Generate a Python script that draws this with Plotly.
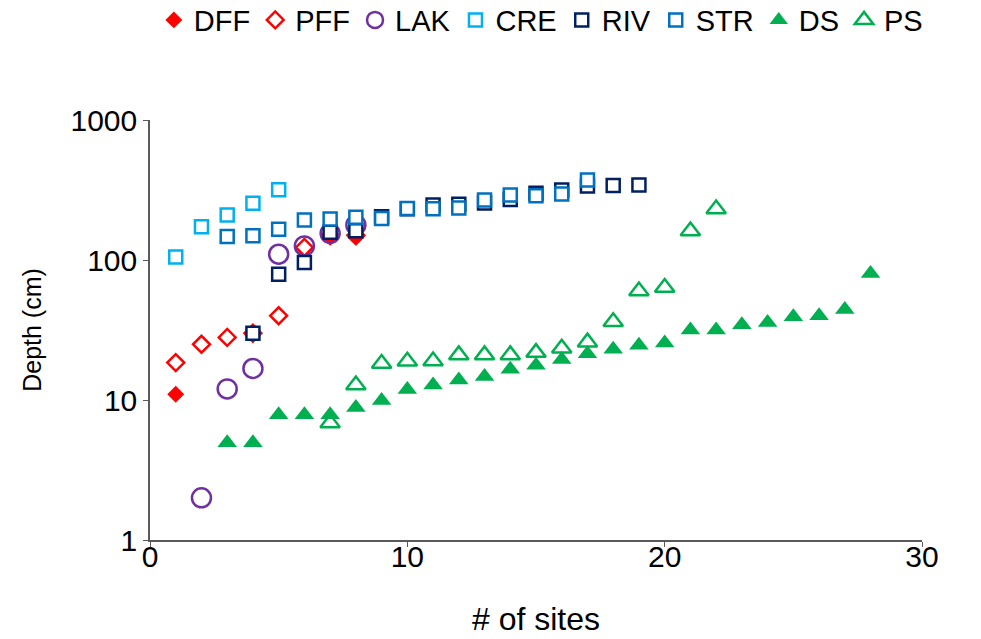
import plotly.graph_objects as go

# Depth of each site class, ranked by site number
dff_x = [1, 4, 7, 8]
dff_y = [11, 30, 145, 145]

pff_x = [1, 2, 3, 4, 5, 6, 7, 8]
pff_y = [18.5, 25, 28, 30, 40, 123, 150, 150]

lak_x = [2, 3, 4, 5, 6, 7, 8]
lak_y = [2.0, 12, 16.8, 110, 126, 155, 178]

cre_x = [1, 2, 3, 4, 5]
cre_y = [105, 173, 210, 254, 318]

riv_x = [4, 5, 6, 7, 8, 9, 10, 11, 12, 13, 14, 15, 16, 17, 18, 19]
riv_y = [30, 79, 96, 158, 162, 204, 232, 247, 250, 255, 271, 300, 316, 338, 340, 343]

str_x = [3, 4, 5, 6, 7, 8, 9, 10, 11, 12, 13, 14, 15, 16, 17]
str_y = [147, 149, 166, 193, 196, 202, 198, 233, 232, 235, 268, 291, 288, 296, 373]

ds_x = list(range(3, 29))
ds_y = [4.95, 4.95, 7.85, 7.85, 7.85, 8.85, 9.9, 11.9, 12.8, 13.9, 14.7, 16.6, 17.7,
        19.5, 21.4, 23, 24.6, 25.5, 31.6, 31.6, 34.5, 35.8, 39.3, 40, 44.3, 80]

ps_x = list(range(7, 23))
ps_y = [6.85, 12.8, 18.2, 18.9, 19, 21, 21, 21, 21.8, 23.4, 25.9, 36.2, 60, 63.6, 161, 231]

RED = "#FF0000"
PURPLE = "#7030A0"
LIGHT_BLUE = "#00B0F0"
NAVY = "#002060"
BLUE = "#0070C0"
GREEN = "#00B050"


def square(color):
    # white-filled square with a coloured border
    return dict(symbol="square", size=13, color="white", line=dict(width=2.5, color=color))


series = [
    ("DFF", dff_x, dff_y, dict(symbol="diamond", size=13, color=RED, line=dict(width=0, color=RED))),
    ("PFF", pff_x, pff_y, dict(symbol="diamond-open", size=13, color=RED, line=dict(width=2.5))),
    ("LAK", lak_x, lak_y, dict(symbol="circle-open", size=19, color=PURPLE, line=dict(width=2.5))),
    ("CRE", cre_x, cre_y, square(LIGHT_BLUE)),
    ("RIV", riv_x, riv_y, square(NAVY)),
    ("STR", str_x, str_y, square(BLUE)),
    ("DS", ds_x, ds_y, dict(symbol="triangle-up", size=17, color=GREEN, line=dict(width=0, color=GREEN))),
    ("PS", ps_x, ps_y, dict(symbol="triangle-up-open", size=17, color=GREEN, line=dict(width=2.5))),
]

fig = go.Figure()
for name, xs, ys, marker in series:
    fig.add_trace(go.Scatter(x=xs, y=ys, mode="markers", name=name, marker=marker))

FONT = "Liberation Sans, Arial, sans-serif"
AXIS_COLOR = "#595959"
FS = 30

fig.update_layout(
    width=981,
    height=639,
    autosize=False,
    margin=dict(l=150, r=59, t=120, b=99, autoexpand=False),
    paper_bgcolor="white",
    plot_bgcolor="white",
    font=dict(family=FONT, size=FS, color="#000000"),
    showlegend=True,
    legend=dict(
        orientation="h",
        xref="paper",
        yref="paper",
        x=0.005,
        xanchor="left",
        y=1.238,
        yanchor="middle",
        font=dict(size=29),
        itemwidth=30,
        tracegroupgap=0,
    ),
    xaxis=dict(
        range=[0, 30],
        tickvals=[0, 10, 20, 30],
        showgrid=False,
        zeroline=False,
        showline=True,
        linecolor=AXIS_COLOR,
        linewidth=1.5,
        ticks="outside",
        ticklen=5,
        tickcolor=AXIS_COLOR,
        tickfont=dict(size=FS),
        ticklabelstandoff=-16,
        title=dict(text="# of sites", font=dict(size=32), standoff=36),
    ),
    yaxis=dict(
        type="log",
        range=[0, 3],
        tickvals=[1, 10, 100, 1000],
        ticktext=["1", "10", "100", "1000"],
        showgrid=False,
        zeroline=False,
        showline=True,
        linecolor=AXIS_COLOR,
        linewidth=1.5,
        ticks="outside",
        ticklen=5,
        tickcolor=AXIS_COLOR,
        tickfont=dict(size=FS),
        title=dict(text="Depth (cm)", font=dict(size=25), standoff=22),
    ),
)

fig.write_html("out.html")
